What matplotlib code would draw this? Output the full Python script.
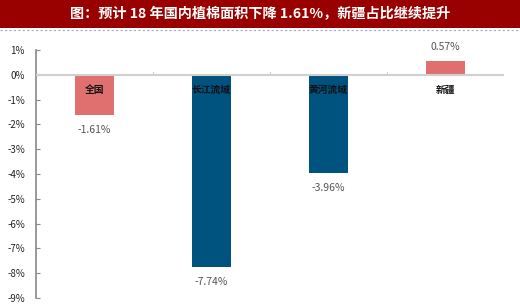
import numpy as np
import matplotlib.pyplot as plt
from matplotlib.ticker import FuncFormatter

plt.rcParams['font.family'] = ['Noto Sans CJK SC', 'DejaVu Sans']

categories = ["全国", "长江流域", "黄河流域", "新疆"]
values = [-1.61, -7.74, -3.96, 0.57]
colors = ["#E07070", "#00527F", "#00527F", "#E07070"]
title = "图：预计 18 年国内植棉面积下降 1.61%，新疆占比继续提升"

fig = plt.figure(figsize=(5.2, 3.07), dpi=100)

# title banner
tax = fig.add_axes([0, 1 - 28 / 307, 1, 28 / 307])
tax.set_facecolor("#990000")
tax.set_xticks([])
tax.set_yticks([])
for s in tax.spines.values():
    s.set_visible(False)
tax.text(0.5, 0.5, title, color="white", fontsize=10.2, fontweight="bold",
         ha="center", va="center", transform=tax.transAxes)
fig.add_artist(plt.Line2D([0, 1], [1 - 29.5 / 307] * 2, color="#A0A8C8",
                          lw=0.8, ls=(0, (2, 2))))

ax = fig.add_axes([36 / 520, 9 / 307, 468 / 520, 248 / 307])
x = np.arange(len(categories))
ax.bar(x, values, width=0.33, color=colors, zorder=2)
ax.set_xlim(-0.5, len(categories) - 0.5)
ax.set_ylim(-9, 1)
ax.set_yticks(np.arange(-9, 2, 1))
ax.yaxis.set_major_formatter(FuncFormatter(lambda v, p: f"{v:.0f}%"))
ax.tick_params(axis="y", labelsize=7, colors="#888888", labelcolor="#222222",
               length=3, direction="in", pad=8)
ax.set_xticks([])
for s in ["top", "right", "bottom"]:
    ax.spines[s].set_visible(False)
ax.spines["left"].set_color("#888888")
ax.spines["left"].set_linewidth(1.2)

ax.axhline(0, color="#D0D0D0", lw=1.5, zorder=3)
for b in [0.5, 1.5, 2.5]:
    ax.plot([b, b], [0, 0.12], color="#D0D0D0", lw=0.8, zorder=3)

for xi, cat, v in zip(x, categories, values):
    ax.text(xi, -0.6, cat, ha="center", va="center", fontsize=7,
            fontweight="bold", color="#111111", zorder=4)
    off = -0.6 if v < 0 else 0.55
    ax.text(xi, v + off, f"{v:.2f}%", ha="center", va="center", fontsize=7.5,
            color="#555555")

fig.savefig("out.png", dpi=100)
